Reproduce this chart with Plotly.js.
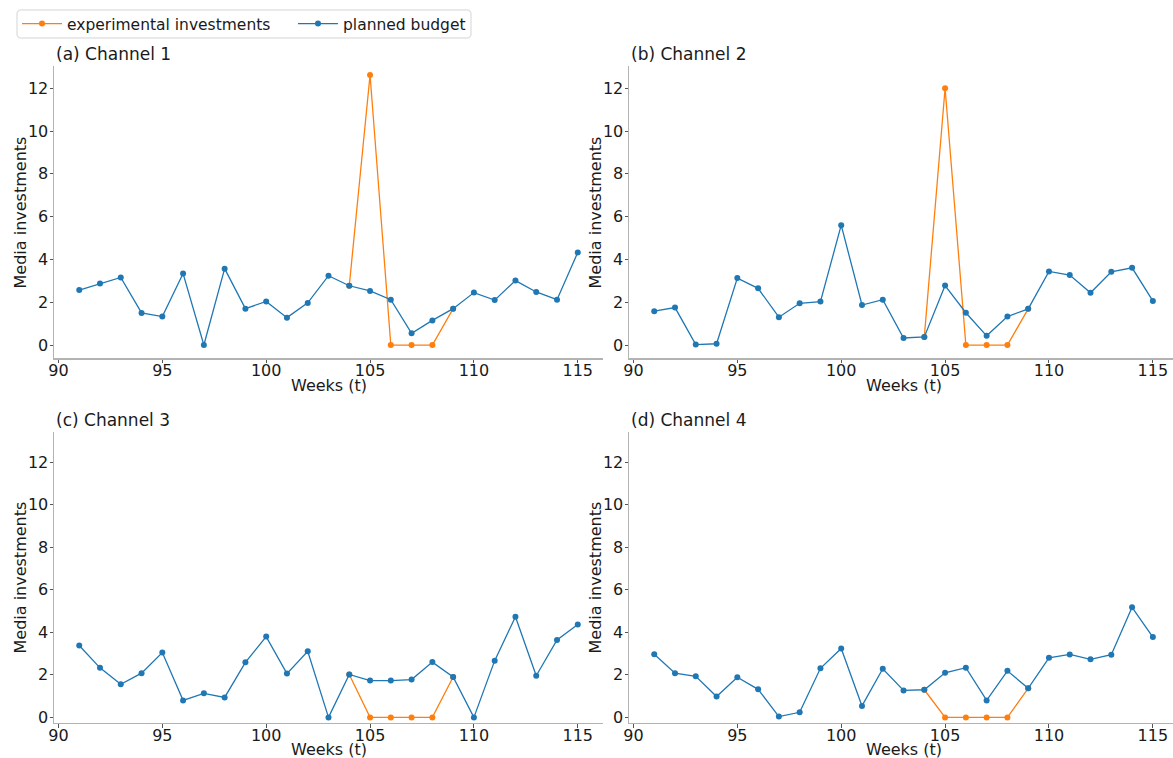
<!DOCTYPE html>
<html>
<head>
<meta charset="utf-8">
<script src="https://cdn.plot.ly/plotly-3.0.1.min.js"></script>
<style>html,body{margin:0;padding:0;background:#fff;}#chart{width:1173px;height:758px;}</style>
</head>
<body>
<div id="chart"></div>
<script>
const weeks = [91,92,93,94,95,96,97,98,99,100,101,102,103,104,105,106,107,108,109,110,111,112,113,114,115];
const expWeeks = [104,105,106,107,108,109];

const planned1 = [2.57,2.87,3.16,1.50,1.33,3.34,0.0,3.57,1.70,2.04,1.28,1.97,3.24,2.77,2.53,2.12,0.55,1.15,1.70,2.45,2.10,3.01,2.48,2.12,4.33];
const planned2 = [1.58,1.75,0.02,0.06,3.13,2.65,1.30,1.95,2.03,5.60,1.87,2.12,0.33,0.38,2.78,1.51,0.43,1.33,1.69,3.44,3.27,2.44,3.42,3.61,2.06];
const planned3 = [3.38,2.33,1.56,2.08,3.05,0.80,1.13,0.94,2.59,3.80,2.06,3.11,0.0,2.02,1.73,1.73,1.78,2.60,1.90,0.0,2.67,4.73,1.96,3.64,4.37];
const planned4 = [2.97,2.08,1.93,0.98,1.89,1.32,0.04,0.24,2.31,3.24,0.54,2.29,1.27,1.30,2.10,2.34,0.80,2.19,1.37,2.80,2.96,2.73,2.95,5.18,3.78];

const exp1 = [2.77,12.62,0,0,0,1.70];
const exp2 = [0.38,12.0,0,0,0,1.69];
const exp3 = [2.02,0,0,0,0,1.90];
const exp4 = [1.30,0,0,0,0,1.37];

const panelTitles = ["(a) Channel 1","(b) Channel 2","(c) Channel 3","(d) Channel 4"];
const xTicks = [90,95,100,105,110,115];
const yTicks = [0,2,4,6,8,10,12];
const seriesNames = ["experimental investments","planned budget"];
const xTitle = "Weeks (t)";
const yTitle = "Media investments";

const ORANGE = "#ff7f0e", BLUE = "#1f77b4";
const FONT = "DejaVu Sans, sans-serif";
const TXT = "#1a1a1a";
const W = 1173, H = 758;

const planned = [planned1,planned2,planned3,planned4];
const exps = [exp1,exp2,exp3,exp4];

const traces = [];
for (let i=0;i<4;i++){
  const ax = i===0 ? "" : String(i+1);
  traces.push({x:expWeeks, y:exps[i], type:"scatter", mode:"lines+markers",
    name:seriesNames[0], legend:"legend", showlegend:i===0,
    line:{color:ORANGE,width:1.3}, marker:{color:ORANGE,size:6},
    xaxis:"x"+ax, yaxis:"y"+ax});
}
for (let i=0;i<4;i++){
  const ax = i===0 ? "" : String(i+1);
  traces.push({x:weeks, y:planned[i], type:"scatter", mode:"lines+markers",
    name:seriesNames[1], legend:"legend2", showlegend:i===0,
    line:{color:BLUE,width:1.3}, marker:{color:BLUE,size:6},
    xaxis:"x"+ax, yaxis:"y"+ax});
}

// pixel geometry
const colL = [54.3, 602.7], colR = [629.3, 1173];
const rowT = [66, 358.3], rowB = [431.7, 722.7];
const toX = p => [p[0]/W, p[1]/W];
const toY = p => [1-p[1]/H, 1-p[0]/H];

function xaxis(domain, range, anchor){
  return {domain, range, anchor, tickvals:xTicks, ticks:"outside", ticklen:3.5, tickwidth:1,
    tickcolor:"#555", showline:true, linecolor:"#b3b3b3", linewidth:1.3, showgrid:false, zeroline:false,
    ticklabelstandoff:-6,
    tickfont:{size:16,color:TXT,family:FONT}};
}
function yaxis(domain, range, anchor){
  return {domain, range, anchor, tickvals:yTicks, ticks:"outside", ticklen:3.5, tickwidth:1,
    tickcolor:"#555", showline:true, linecolor:"#b3b3b3", linewidth:1.3, showgrid:false, zeroline:false,
    ticklabelstandoff:-2,
    tickfont:{size:16,color:TXT,family:FONT}};
}

const annotations = [];
const cols = [colL,colR,colL,colR];
const rows = [rowT,rowT,rowB,rowB];
const xTitleCenters = [329, 904, 329, 904];
for (let i=0;i<4;i++){
  annotations.push({text:panelTitles[i], xref:"paper", yref:"paper",
    x:cols[i][0]/W, y:1-(rows[i][0]-12)/H, xanchor:"left", yanchor:"middle", showarrow:false,
    font:{size:17,family:FONT,color:TXT}});
  annotations.push({text:xTitle, xref:"paper", yref:"paper",
    x:xTitleCenters[i]/W, y:1-(rows[i][1]+27)/H, xanchor:"center", yanchor:"middle", showarrow:false,
    font:{size:16,family:FONT,color:TXT}});
  annotations.push({text:yTitle, xref:"paper", yref:"paper", textangle:-90,
    x:(cols[i][0]-34)/W, y:1-((rows[i][0]+rows[i][1])/2)/H, xanchor:"center", yanchor:"middle", showarrow:false,
    font:{size:16,family:FONT,color:TXT}});
}

// rounded legend frame (pixels -> paper)
function roundRect(x0,y0,x1,y1,r){
  const px = v => (v/W).toFixed(5), py = v => (1-v/H).toFixed(5);
  return `M${px(x0+r)},${py(y0)} L${px(x1-r)},${py(y0)} Q${px(x1)},${py(y0)} ${px(x1)},${py(y0+r)} `+
         `L${px(x1)},${py(y1-r)} Q${px(x1)},${py(y1)} ${px(x1-r)},${py(y1)} `+
         `L${px(x0+r)},${py(y1)} Q${px(x0)},${py(y1)} ${px(x0)},${py(y1-r)} `+
         `L${px(x0)},${py(y0+r)} Q${px(x0)},${py(y0)} ${px(x0+r)},${py(y0)} Z`;
}

const legendCommon = {orientation:"h", yanchor:"middle", xanchor:"left", y:1-24/H,
  bgcolor:"rgba(0,0,0,0)", borderwidth:0, itemwidth:40,
  font:{size:15.5,family:FONT,color:TXT}};

const layout = {
  width:W, height:H, margin:{l:0,r:0,t:0,b:0,autoexpand:false},
  paper_bgcolor:"#fff", plot_bgcolor:"#fff",
  font:{family:FONT,color:TXT},
  showlegend:true,
  legend: Object.assign({}, legendCommon, {x:17/W}),
  legend2: Object.assign({}, legendCommon, {x:293/W}),
  shapes:[{type:"path", xref:"paper", yref:"paper", path:roundRect(17,10,471,38,4),
    line:{color:"#d4d4d4",width:1}, fillcolor:"rgba(255,255,255,0.9)", layer:"above"}],
  xaxis: xaxis(toX(colL),[89.8,116.2],"y"),
  yaxis: yaxis(toY(rowT),[-0.62,13.04],"x"),
  xaxis2: xaxis(toX(colR),[89.8,115.97],"y2"),
  yaxis2: yaxis(toY(rowT),[-0.62,13.04],"x2"),
  xaxis3: xaxis(toX(colL),[89.8,116.2],"y3"),
  yaxis3: yaxis(toY(rowB),[-0.25,13.44],"x3"),
  xaxis4: xaxis(toX(colR),[89.8,115.97],"y4"),
  yaxis4: yaxis(toY(rowB),[-0.25,13.44],"x4"),
  annotations
};

Plotly.newPlot("chart", traces, layout, {displayModeBar:false, staticPlot:true});
</script>
</body>
</html>
